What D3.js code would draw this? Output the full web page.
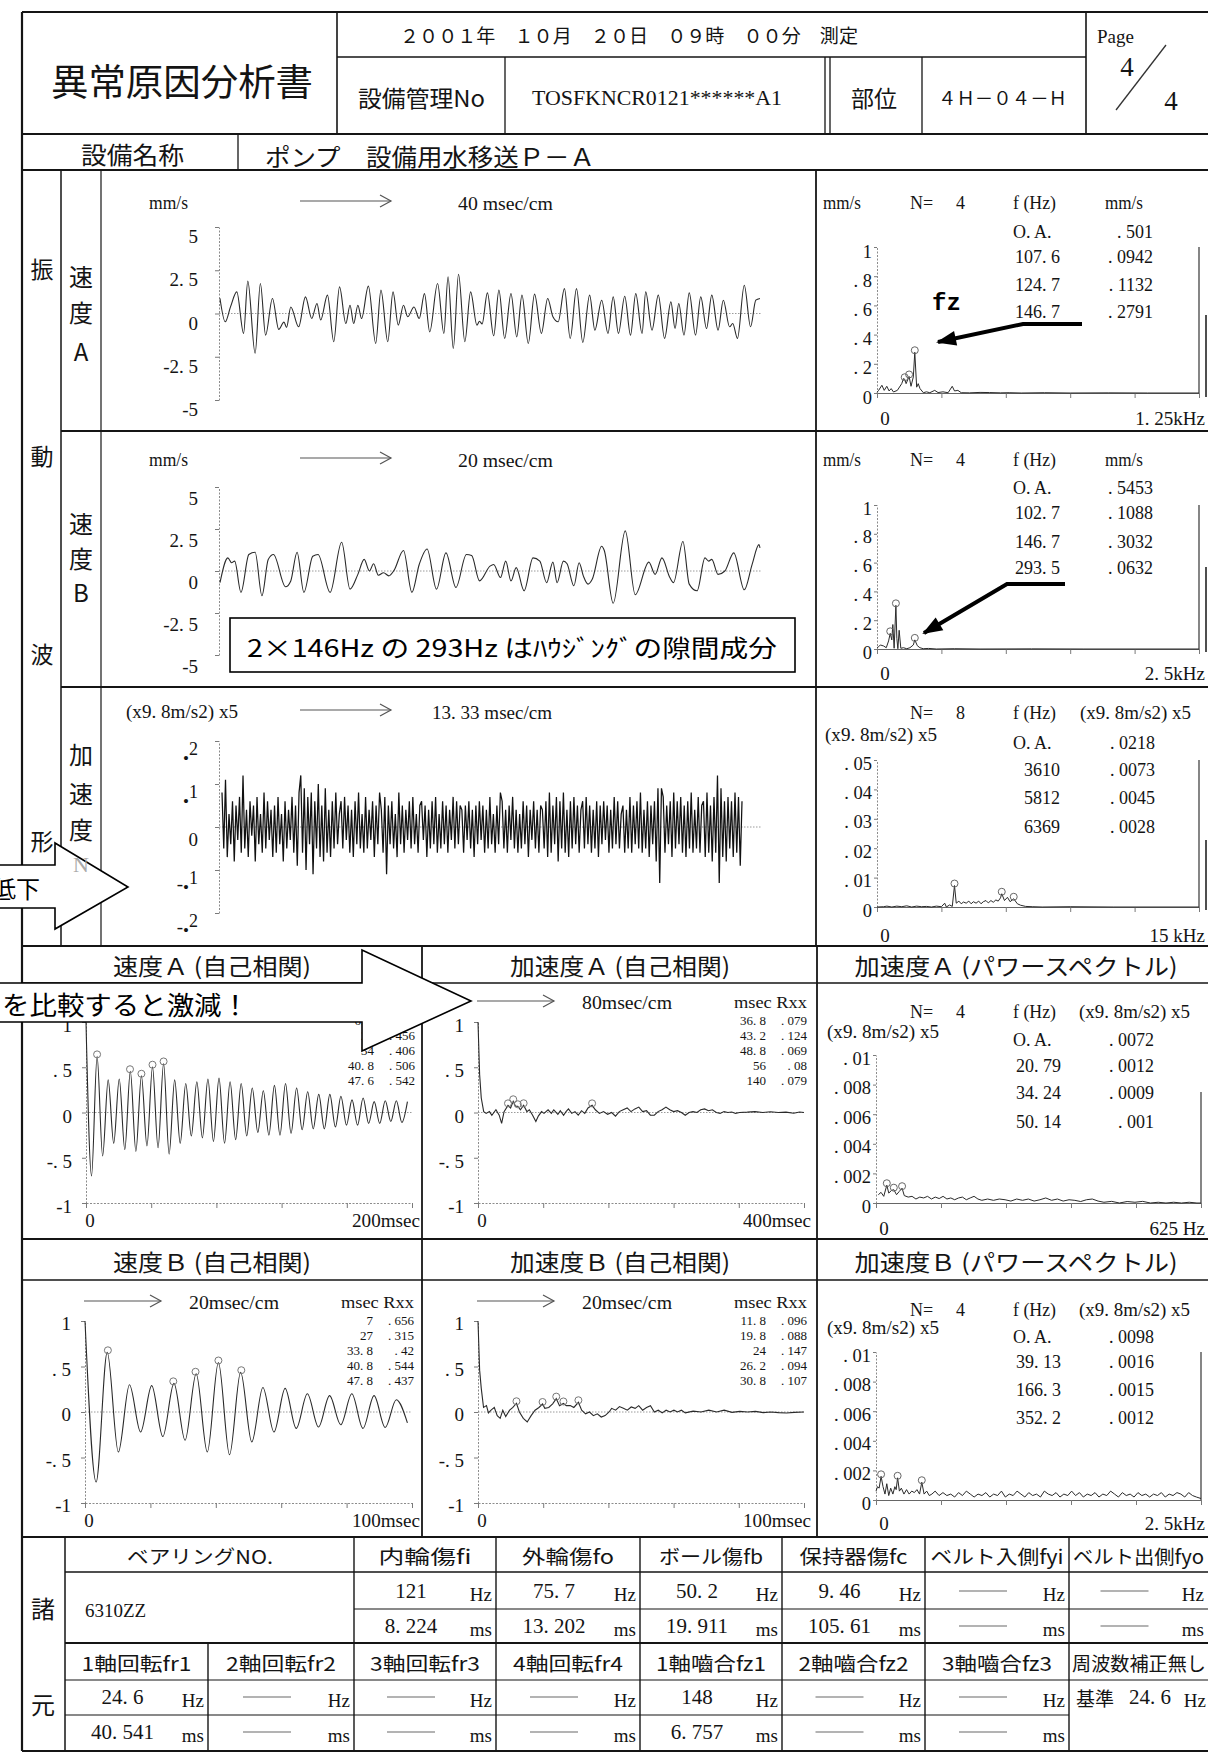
<!DOCTYPE html>
<html lang="ja">
<head>
<meta charset="utf-8">
<title>異常原因分析書</title>
<script src="https://cdn.jsdelivr.net/npm/d3@7/dist/d3.min.js"></script>
<style>
  html, body { margin: 0; padding: 0; background: #fff; }
  svg { display: block; }
</style>
</head>
<body>
<svg id="sheet" width="1208" height="1753"></svg>
<script>
// ---------- tick labels ----------
const waveTicks = [5, 2.5, 0, -2.5, -5];
const waveLabels = ["5", "2. 5", "0", "-2. 5", "-5"];
const accTicks = [0.2, 0.1, 0, -0.1, -0.2];
const accLabels = [".2", ".1", "0", "-.1", "-.2"];
const velSpecTicks = [1, 0.8, 0.6, 0.4, 0.2, 0];
const velSpecLabels = ["1", ". 8", ". 6", ". 4", ". 2", "0"];
const accNSpecTicks = [0.05, 0.04, 0.03, 0.02, 0.01, 0];
const accNSpecLabels = [". 05", ". 04", ". 03", ". 02", ". 01", "0"];
const powTicks = [0.01, 0.008, 0.006, 0.004, 0.002, 0];
const powLabels = [". 01", ". 008", ". 006", ". 004", ". 002", "0"];
const acTicks = [1, 0.5, 0, -0.5, -1];
const acLabels = ["1", ". 5", "0", "-. 5", "-1"];

// ---------- waveforms [t, mm/s] ----------
const velA_wave = [[0,.87],[5,-.48],[10,.38],[16,1.25],[22.5,-1.15],[26.5,1.87],[33.5,-2.3],[38.5,1.73],[43.5,-1.25],[50,.87],[56,-.92],[61,-.5],[63.5,-.8],[67.5,.38],[75,-.77],[81.5,.96],[87.5,-.29],[92.5,.58],[96,-.38],[102.5,1.06],[108.5,-1.63],[114,1.54],[120,-.58],[124,.48],[127.5,-.58],[131.5,.48],[135,-.29],[141.5,1.58],[148.5,-1.73],[153.5,1.35],[160,-1.63],[165,1.25],[170,-.67],[175,.48],[179,-.19],[185,.38],[190,-.29],[195,1.15],[200,-1.06],[207.5,1.73],[213.5,-1.15],[217.5,2.12],[222.5,-2.02],[227.5,2.27],[233.5,-1.63],[239,1.25],[245,-.67],[247.5,-.45],[250,-.6],[255,1.19],[261,-1.29],[266,1.35],[271.5,-1.44],[277.5,1.15],[283,-1.35],[288,1.06],[294,-1.73],[300,1.12],[306.5,-1.15],[312.5,.87],[317.5,-.19],[322.5,-.48],[328.5,1.44],[334,-1.44],[340,1.44],[346,-1.67],[352.5,1.06],[357.5,-.96],[364,.77],[370,-1.15],[375,.96],[380,-1.15],[386,1.0],[391.5,-1.25],[396.5,1.15],[402.5,-1.15],[406,1.25],[412,-.96],[418,1.06],[424,-1.44],[430,.67],[434,-.87],[437.5,.58],[442.5,-1.25],[447.5,1.19],[453.5,-1.25],[458.5,.96],[464,-.87],[469,1.06],[475,-.96],[480,.77],[486,-.77],[489,-.58],[493.5,-1.44],[500,1.63],[506,-.77],[511,.77],[515,.87]];
const velB_wave = [[0,-.69],[7.5,.78],[11,.49],[14,.59],[20,-1.27],[27.5,.98],[33.5,1.12],[40,-1.47],[46,.69],[51,.98],[62.5,-.94],[67.5,-.59],[73.5,1.12],[80,-1.27],[88.5,.88],[93.5,.98],[105,-1.27],[116,1.71],[124,-1.08],[131.5,-.2],[137.5,.69],[142.5,0],[146.5,.43],[151,-.25],[156,-.1],[161,-.29],[166,.04],[175,1.22],[183,-1.27],[190,.39],[197.5,1.31],[206.5,-1.08],[215.5,1.08],[225,-.98],[235,.98],[240,.92],[247.5,-.59],[257.5,.29],[261,.39],[267.5,-.39],[272.5,.59],[277.5,-.59],[282.5,.2],[290,-1.18],[298.5,.78],[305,.59],[311.5,-.69],[317.5,.53],[321.5,-.69],[327.5,.59],[331,.43],[337.5,-.88],[342.5,.49],[346.5,-.29],[351,-.78],[355,-.49],[364,1.47],[366.5,1.22],[375,-1.92],[386.5,2.39],[396,-1.41],[409,.53],[415,-.2],[421.5,.78],[429,-.39],[432.5,-.69],[441.5,1.76],[447.5,-.78],[455,-1.18],[462.5,.78],[466,.59],[469,.69],[475,-.2],[481.5,0],[490,1.08],[500,-1.12],[507.5,.39],[514,1.57],[515,1.37]];
// acceleration N, one value per sample
const accN_wave = [.08,-.05,.11,-.07,.03,-.04,.06,-.08,.05,-.03,.07,-.06,.12,-.05,.04,-.07,.06,-.02,.05,-.08,.07,-.04,
.03,-.06,.08,-.05,.06,-.03,.04,-.07,.05,-.06,.07,-.04,.03,-.08,.06,-.05,.04,-.03,.07,-.06,.05,-.09,.08,
.12,-.06,.09,-.10,.07,-.04,.08,-.11,.06,-.05,.10,-.07,.05,-.08,.09,-.06,.04,-.07,.06,-.05,.08,-.04,.03,
.06,-.05,.07,-.03,.05,-.06,.04,-.07,.06,-.04,.08,-.05,.03,-.06,.07,-.05,.04,-.03,.06,-.07,.05,-.04,.08,
.04,-.06,.07,-.11,.05,-.04,.06,-.05,.03,-.07,.08,-.04,.05,-.06,.04,-.03,.06,-.05,.07,-.04,.03,-.06,.05,
.06,-.03,.05,-.07,.04,-.05,.06,-.04,.07,-.06,.03,-.05,.06,-.04,.05,-.06,.04,-.03,.07,-.05,.06,-.04,.05,
.04,-.06,.05,-.03,.06,-.05,.04,-.07,.05,-.04,.06,-.03,.05,-.06,.04,-.05,.07,-.04,.03,-.06,.05,-.04,.08,
.06,-.05,.04,-.06,.05,-.03,.07,-.05,.04,-.06,.03,-.05,.06,-.04,.05,-.07,.04,-.03,.06,-.05,.04,-.06,.05,
.04,-.05,.06,-.07,.08,-.06,.05,-.04,.07,-.08,.06,-.05,.08,-.06,.04,-.07,.06,-.05,.07,-.04,.05,-.06,.04,
.06,-.05,.07,-.04,.05,-.06,.04,-.05,.06,-.07,.05,-.04,.06,-.03,.05,-.06,.04,-.05,.07,-.04,.06,-.05,.03,
.05,-.06,.04,-.05,.07,-.06,.05,-.04,.06,-.05,.08,-.06,.04,-.05,.06,-.07,.05,-.04,.06,-.08,.09,-.13,.09,
.07,-.06,.05,-.04,.06,-.07,.08,-.05,.06,-.04,.07,-.06,.05,-.07,.06,-.05,.08,-.06,.04,-.05,.07,-.06,.05,
.06,-.07,.08,-.06,.05,-.08,.07,-.06,.12,-.13,.09,-.07,.06,-.08,.07,-.05,.06,-.07,.08,-.06,.07,-.09,.06];

// ---------- spectra [Hz, value] ----------
const velA_spec = [[0,.005],[6.4,.018],[19,.053],[28,.018],[38,.046],[47,.014],[55,.03],[64,.007],[79,.018],[96,.064],[103,.099],[107.6,.0942],[113,.064],[124.7,.1132],[132,.046],[141,.11],[146.7,.2791],[154,.04],[160,.064],[167,.03],[180,.002],[192,.008],[205,.002],[224,.018],[237,.003],[256,.008],[276,.002],[292,.046],[301,.014],[314,.018],[327,.002],[359,.001],[400,.004],[436,.003],[480,.001],[513,.002],[560,0],[650,.002],[750,0],[900,.001],[1050,0],[1250,0]];
const velA_pkF = [107.6, 124.7, 146.7], velA_pkV = [.0942, .1132, .2791], velA_oa = .501;
const velB_spec = [[0,.009],[13,.016],[26,.028],[51,.021],[72,.009],[90,.056],[102.7,.1088],[115,.063],[123,.17],[133,.005],[146.7,.3032],[154,.074],[162,.002],[172,.13],[185,.005],[205,.009],[231,.002],[256,.009],[282,.028],[293.5,.0632],[313,.023],[333,.009],[359,.002],[400,.004],[461,0],[600,.002],[800,0],[1200,.001],[1600,0],[2500,0]];
const velB_pkF = [102.7, 146.7, 293.5], velB_pkV = [.1088, .3032, .0632], velB_oa = .5453;
const accN_spec = [[0,0],[308,.0001],[461,.0003],[692,0],[923,.0003],[1154,.0001],[1385,.0004],[1615,0],[1846,.0003],[2077,.0001],[2307,.0002],[2538,0],[2769,.0003],[3000,.0001],[3154,.0013],[3231,0],[3384,.0007],[3507,.0002],[3610,.0073],[3692,.0013],[3815,.002],[3923,.0011],[4030,.0017],[4154,.0013],[4277,.002],[4384,.0011],[4492,.0018],[4615,.0013],[4738,.002],[4846,.0011],[4953,.0018],[5076,.0022],[5184,.0014],[5307,.0022],[5415,.0016],[5538,.0024],[5646,.002],[5753,.0031],[5812,.0045],[5938,.0022],[6077,.0033],[6200,.0018],[6369,.0028],[6538,.0011],[6692,.0006],[6923,.0002],[7230,.0001],[7692,0],[9000,.0001],[11000,0],[15000,0]];
const accN_pkF = [3610, 5812, 6369], accN_pkV = [.0073, .0045, .0028], accN_oa = .0218;
const accA_spec = [[4.5,.00056],[9.7,.00072],[14.9,.00045],[20.79,.0012],[24.6,.00067],[29.8,.00085],[34.24,.0009],[39.5,.00056],[44.7,.00078],[50.14,.001],[54.4,.0005],[61.9,.0004],[69.3,.00045],[76.8,.00027],[84.2,.0004],[91.7,.00034],[99.1,.00045],[106.6,.00027],[114,.0004],[121.5,.0003],[129,.00045],[136.4,.00027],[143.9,.00034],[151.3,.00022],[158.8,.00034],[166.2,.0004],[173.7,.00022],[181.1,.00034],[188.6,.00045],[196,.00027],[203.5,.00018],[214.7,.00027],[225.9,.00018],[237,.00027],[248.2,.00022],[259.4,.00013],[270.6,.00027],[281.8,.00018],[292.9,.00027],[304.1,.00013],[315.3,.00022],[326.5,.00034],[337.7,.00018],[348.8,.00027],[360,.00013],[371.2,.00022],[382.4,.00018],[393.6,.0001],[404.8,.00022],[415.9,.00027],[427.1,.00013],[438.3,.00005],[453.2,.00011],[468.1,0],[483,.0001],[497.9,.00005],[512.8,.00011],[527.7,0],[542.7,.00005],[557.6,0],[572.5,.00005],[587.4,0],[602.3,.00005],[617.2,0],[625,0]];
const accA_pkF = [20.79, 34.24, 50.14], accA_pkV = [.0012, .0009, .001], accA_oa = .0072;
const accB_spec = [[0,.0006],[12,.0009],[24,.0008],[39.13,.0016],[54,.0009],[69,.0004],[83,.0011],[98,.0003],[113,.0008],[130,.0004],[145,.0009],[155,.0007],[166.3,.0015],[180,.0006],[195,.0008],[215,.0004],[235,.0007],[255,.0004],[275,.0006],[295,.0005],[315,.0007],[335,.0004],[352.2,.0012],[370,.0004],[390,.0006],[410,.0003],[430,.0004],[455,.0006],[485,.0003],[515,.0005],[545,.0003],[575,.0004],[605,.0002],[635,.0005],[665,.0003],[695,.0006],[725,.0004],[755,.0002],[785,.0004],[815,.0003],[845,.0005],[875,.0002],[905,.0004],[935,.0003],[965,.0006],[995,.0002],[1025,.0004],[1055,.0003],[1085,.0006],[1115,.0004],[1145,.0002],[1175,.0005],[1205,.0003],[1235,.0004],[1265,.0002],[1295,.0006],[1325,.0004],[1355,.0003],[1385,.0005],[1415,.0002],[1445,.0004],[1475,.0003],[1505,.0006],[1535,.0003],[1565,.0005],[1595,.0002],[1625,.0004],[1655,.0003],[1685,.0005],[1715,.0002],[1745,.0004],[1775,.0003],[1805,.0006],[1835,.0004],[1865,.0002],[1895,.0005],[1925,.0003],[1955,.0004],[1985,.0002],[2015,.0005],[2045,.0003],[2075,.0004],[2105,.0002],[2135,.0004],[2165,.0003],[2195,.0005],[2225,.0002],[2255,.0004],[2285,.0003],[2315,.0005],[2345,.0004],[2375,.0002],[2405,.0005],[2435,.0003],[2465,.0002],[2500,.0001]];
const accB_pkF = [39.13, 166.3, 352.2], accB_pkV = [.0016, .0015, .0012], accB_oa = .0098;

// ---------- autocorrelation ----------
// velocity: extremes every 3.4 ms
const velA_ac = [1,-.70,.62,-.48,.36,-.34,.37,-.41,.456,-.43,.406,-.37,.506,-.39,.542,-.46,.36,-.34,.32,-.26,.34,-.28,.37,-.32,.38,-.34,.34,-.30,.32,-.26,.27,-.22,.24,-.25,.30,-.25,.32,-.23,.27,-.19,.23,-.18,.20,-.18,.20,-.16,.18,-.14,.14,-.14,.16,-.12,.12,-.12,.13,-.10,.13,-.11,.12];
const velB_ac = [1,-.77,.656,-.44,.30,-.22,.29,-.27,.315,-.31,.42,-.44,.544,-.47,.437,-.33,.27,-.22,.26,-.18,.20,-.165,.18,-.14,.20,-.18,.18,-.17,.135,-.12];
const acStep = 3.4;
const accA_ac = [[0,1],[2,.42],[4,.16],[7,.01],[10,-.01],[14,.01],[17,-.03],[22,.03],[26,-.03],[29,-.12],[32,.01],[36.8,.079],[40,.05],[43.2,.124],[46,.07],[48.8,.069],[52,.03],[56,.08],[60,.01],[63,.03],[67,-.03],[71,-.10],[74,-.04],[78,.01],[81,-.01],[86,.03],[90,-.01],[93,.03],[98,-.02],[101,.02],[105,-.03],[108,.01],[111,.04],[115,-.01],[119,.01],[123,-.03],[127,.02],[131,-.01],[135,.05],[140,.079],[144,.03],[149,-.01],[154,.01],[159,-.02],[164,0],[168.7,-.04],[173.4,.01],[178.2,.03],[183,.05],[187.7,.01],[192.5,.04],[197.3,.06],[202,.01],[206.8,.02],[211.5,-.03],[216.3,-.03],[221,.01],[225.8,.03],[230.6,.06],[235.3,.03],[240,.01],[244.8,.02],[249.6,0],[254.3,-.03],[259,0],[263.8,.01],[268.6,0],[273.3,.03],[278,.04],[282.8,.02],[287.6,.03],[292.4,0],[297,-.01],[301.9,.01],[306.6,0],[311.4,.005],[316,-.01],[320.9,0],[330.4,.004],[339.9,.01],[349.4,0],[358.9,.008],[368.4,0],[377.9,.004],[387.4,-.008],[394.5,.006],[400,0]];
const accB_ac = [[0,1],[.5,.46],[1,.26],[1.7,.05],[2.6,.07],[3.2,-.01],[4,.02],[5,.05],[5.9,-.04],[6.8,-.07],[7.6,.02],[8.5,-.05],[9.7,.02],[10.7,.05],[11.8,.096],[12.7,0],[13.9,-.07],[15.1,-.11],[16.3,-.04],[17.5,.02],[18.7,.05],[19.8,.088],[20.5,.04],[21.7,.05],[22.9,.09],[24,.147],[25,.07],[26.2,.094],[27.1,.07],[28.3,.07],[29.4,.05],[30.8,.107],[31.8,.02],[33,-.02],[34.2,0],[35.4,-.04],[36.6,-.02],[37.8,-.055],[39,-.04],[40.2,0],[41,.04],[42.2,.02],[43.4,.06],[44.6,.04],[45.8,.02],[47,.055],[48.2,.04],[49.3,.07],[50.5,.02],[51.7,.05],[52.9,.07],[54.1,0],[55.3,.02],[56.5,-.01],[57.7,.02],[58.9,0],[60.1,.02],[61.2,0],[62.4,.02],[63.6,-.01],[66,.01],[68.4,0],[70.8,.02],[73.2,0],[75.5,.02],[77.9,-.004],[80.3,.007],[82.7,0],[85.1,.007],[87.5,-.007],[89.8,0],[92.2,-.007],[94.6,-.011],[97,-.004],[100,0]];
const velA_rxxT = [6.8, 27, 34, 40.8, 47.6], velA_rxxV = [.62, .456, .406, .506, .542];
const accA_rxxT = [36.8, 43.2, 48.8, 56, 140], accA_rxxV = [.079, .124, .069, .08, .079];
const velB_rxxT = [7, 27, 33.8, 40.8, 47.8], velB_rxxV = [.656, .315, .42, .544, .437];
const accB_rxxT = [11.8, 19.8, 24, 26.2, 30.8], accB_rxxV = [.096, .088, .147, .094, .107];

// ---------- bearing / shaft table ----------
const defectNames = ["内輪傷fi", "外輪傷fo", "ボール傷fb", "保持器傷fc", "ベルト入側fyi", "ベルト出側fyo"];
const defectHz = [121, 75.7, 50.2, 9.46, null, null];
const defectMs = [8.224, 13.202, 19.911, 105.61, null, null];
const shaftNames = ["1軸回転fr1", "2軸回転fr2", "3軸回転fr3", "4軸回転fr4", "1軸嚙合fz1", "2軸嚙合fz2", "3軸嚙合fz3"];
const shaftHz = [24.6, null, null, null, 148, null, null];
const shaftMs = [40.541, null, null, null, 6.757, null, null];

// ======================================================
const F = '"Liberation Serif","Noto Sans CJK JP",serif';
const J = '"Noto Sans CJK JP","Noto Sans CJK SC",sans-serif';
const INK = "#141414";
const svg = d3.select("#sheet");
const gFrame = svg.append("g");
const gPlot = svg.append("g");
const gText = svg.append("g");
const gOver = svg.append("g");

const fmt = v => { let s = String(v); if (s.startsWith("0.")) s = s.slice(1); return s.replace(".", ". "); };

function txt(g, x, y, s, o = {}) {
  const t = g.append("text").attr("x", x).attr("y", y).text(s)
    .attr("font-family", o.jp ? J : (o.font || F))
    .attr("font-size", o.fs || 18)
    .attr("text-anchor", o.a || "start")
    .attr("dominant-baseline", "central")
    .attr("fill", o.c || INK);
  if (o.w) t.attr("textLength", o.w).attr("lengthAdjust", "spacingAndGlyphs");
  if (o.b) t.attr("font-weight", "bold");
  return t;
}
function ln(g, x1, y1, x2, y2, w = 1.5, c = "#151515", dash) {
  const l = g.append("line").attr("x1", x1).attr("y1", y1).attr("x2", x2).attr("y2", y2)
    .attr("stroke", c).attr("stroke-width", w);
  if (dash) l.attr("stroke-dasharray", dash);
  return l;
}
function thinArrow(x1, x2, y) {
  ln(gText, x1, y, x2, y, 1.2, "#555");
  gText.append("path").attr("d", `M${x2 - 11},${y - 6}L${x2},${y}L${x2 - 11},${y + 6}`)
    .attr("fill", "none").attr("stroke", "#555").attr("stroke-width", 1.2);
}
function styleAxis(a, fs, dy) {
  a.attr("font-family", F).attr("font-size", fs);
  a.select(".domain").attr("stroke", "#8c8c8c").attr("stroke-width", 1);
  a.selectAll(".tick line").attr("stroke", "#7a7a7a");
  a.selectAll(".tick text").attr("fill", INK).attr("dy", null)
    .attr("dominant-baseline", "central").attr("transform", `translate(0,${dy})`);
}

// ---------- frame ----------
ln(gFrame, 22, 12, 1208, 12, 2.2);
ln(gFrame, 22, 12, 22, 1751, 2.2);
ln(gFrame, 22, 1751, 1208, 1751, 2.2);
ln(gFrame, 337, 12, 337, 134, 1.6);
ln(gFrame, 1086, 12, 1086, 134, 1.6);
ln(gFrame, 337, 57, 1086, 57, 1.4);
ln(gFrame, 22, 134, 1208, 134, 2);
[505, 825, 830, 922].forEach(x => ln(gFrame, x, 57, x, 134, 1.3));
ln(gFrame, 238, 134, 238, 170, 1.3);
ln(gFrame, 22, 170, 1208, 170, 2);
ln(gFrame, 61, 170, 61, 946, 1.5);
ln(gFrame, 101, 170, 101, 946, 1.2);
ln(gFrame, 61, 431, 1208, 431, 1.8);
ln(gFrame, 61, 687, 1208, 687, 1.8);
ln(gFrame, 816, 170, 816, 946, 1.8);
ln(gFrame, 22, 946, 1208, 946, 2);
ln(gFrame, 22, 983, 1208, 983, 1.5);
ln(gFrame, 22, 1239, 1208, 1239, 2);
ln(gFrame, 22, 1280, 1208, 1280, 1.5);
ln(gFrame, 422, 946, 422, 1537, 1.8);
ln(gFrame, 817, 946, 817, 1537, 1.8);
ln(gFrame, 22, 1537, 1208, 1537, 2);
ln(gFrame, 65, 1537, 65, 1751, 1.5);
ln(gFrame, 65, 1572, 1208, 1572, 1.5);
ln(gFrame, 354, 1609, 1208, 1609, 1.2);
ln(gFrame, 65, 1643, 1208, 1643, 1.8);
ln(gFrame, 65, 1680, 1208, 1680, 1.2);
ln(gFrame, 65, 1715, 1069, 1715, 1.2);
[354, 496, 640, 782, 925, 1069].forEach(x => ln(gFrame, x, 1537, x, 1751, 1.4));
ln(gFrame, 208, 1643, 208, 1751, 1.4);
[[315, 397], [567, 652], [840, 910]].forEach(s => ln(gFrame, 1206, s[0], 1206, s[1], 1.5));

// ---------- header texts ----------
txt(gText, 182, 80, "異常原因分析書", { jp: 1, fs: 37, a: "middle", w: 262 });
txt(gText, 400, 34, "２００１年　１０月　２０日　０９時　００分　測定", { jp: 1, fs: 19, w: 458 });
txt(gText, 358, 97, "設備管理No", { jp: 1, fs: 23, w: 127 });
txt(gText, 532, 97, "TOSFKNCR0121******A1", { fs: 22, w: 250 });
txt(gText, 874, 97, "部位", { jp: 1, fs: 23, a: "middle" });
txt(gText, 938, 97, "４Ｈ－０４－Ｈ", { jp: 1, fs: 18, w: 129 });
txt(gText, 1097, 36, "Page", { fs: 19 });
txt(gText, 1127, 67, "4", { fs: 27, a: "middle" });
txt(gText, 1171, 101, "4", { fs: 27, a: "middle" });
ln(gText, 1166, 45, 1116, 110, 1.3, "#333");
txt(gText, 81, 153, "設備名称", { jp: 1, fs: 24, w: 103 });
txt(gText, 265, 155, "ポンプ　設備用水移送Ｐ－Ａ", { jp: 1, fs: 24, w: 330 });

// left column labels
[["振", 268], ["動", 455], ["波", 653], ["形", 840]].forEach(d => txt(gText, 42, d[1], d[0], { jp: 1, fs: 23, a: "middle" }));
[["速", 275], ["度", 311], ["A", 350], ["速", 522], ["度", 557], ["B", 591], ["加", 753], ["速", 792], ["度", 828]]
  .forEach(d => txt(gText, 81, d[1], d[0], { jp: 1, fs: 24, a: "middle" }));

// ---------- waveform panels ----------
function wave(o) {
  const x = d3.scaleLinear().domain(o.xd).range(o.xr);
  const y = d3.scaleLinear().domain([o.ticks[o.ticks.length - 1], o.ticks[0]]).range([o.yb, o.yt]);
  ln(gPlot, 219, y(0), 762, y(0), 1, "#9a9a9a", "1.5,1.5");
  const ay = d3.axisLeft(y).tickValues(o.ticks).tickFormat((d, i) => o.labels[i]).tickSize(4).tickPadding(17).tickSizeOuter(0);
  const a = gPlot.append("g").attr("transform", "translate(219,0)").call(ay);
  styleAxis(a, 19, o.dy);
  a.select(".domain").attr("stroke-dasharray", "2,1.5");
  if (o.bullet) {
    a.selectAll(".tick text").each(function (d, i) {
      const s = o.labels[i], t = d3.select(this).text(null);
      if (s.indexOf(".") < 0) { t.text(s); return; }
      const [pre, dig] = s.split(".");
      if (pre) t.append("tspan").text(pre);
      t.append("tspan").attr("font-size", 17).attr("dy", 4).text("•");
      t.append("tspan").attr("font-size", 18).attr("dy", -9).text(dig);
    });
  }
  const line = d3.line().x((d, i) => x(o.fx(d, i))).y(d => y(o.fy(d))).curve(o.curve);
  gPlot.append("path").datum(o.data).attr("fill", "none").attr("stroke", o.color || "#2a2a2a")
    .attr("stroke-width", o.sw || 1.1).attr("d", line);
  txt(gText, o.unitX || 149, o.unitY, o.unit, { fs: 18, w: o.unitW });
  thinArrow(300, 391, o.unitY - 2);
  txt(gText, o.scaleX || 458, o.unitY, o.scale, { fs: 19, w: o.scaleW });
}
wave({ data: velA_wave, xd: [0, 515], xr: [220, 760], ticks: waveTicks, labels: waveLabels, yb: 400, yt: 227, dy: 9,
  fx: d => d[0], fy: d => d[1], curve: d3.curveMonotoneX, unit: "mm/s", unitY: 203, unitW: 39, scale: "40 msec/cm", scaleW: 95 });
wave({ data: velB_wave, xd: [0, 515], xr: [220, 760], ticks: waveTicks, labels: waveLabels, yb: 655, yt: 487, dy: 11,
  fx: d => d[0], fy: d => d[1], curve: d3.curveMonotoneX, unit: "mm/s", unitY: 460, unitW: 39, scale: "20 msec/cm", scaleW: 95 });
wave({ data: accN_wave, xd: [0, accN_wave.length - 1], xr: [222, 742], ticks: accTicks, labels: accLabels, yb: 913, yt: 741, dy: 12, bullet: 1,
  fx: (d, i) => i, fy: d => d, curve: d3.curveLinear, color: "#111", sw: 1.25,
  unit: "(x9. 8m/s2) x5", unitX: 126, unitY: 712, unitW: 112, scale: "13. 33 msec/cm", scaleX: 432, scaleW: 120 });

// ---------- spectrum panels ----------
function spectrum(o) {
  const x = d3.scaleLinear().domain([0, o.fMax]).range([o.x0, o.x1]);
  const y = d3.scaleLinear().domain([0, o.ticks[0]]).range([o.y0, o.yTop]);
  const ay = d3.axisLeft(y).tickValues(o.ticks).tickFormat((d, i) => o.labels[i]).tickSize(3).tickPadding(2).tickSizeOuter(0);
  const a = gPlot.append("g").attr("transform", `translate(${o.x0},0)`).call(ay);
  styleAxis(a, 18.5, o.dy);
  a.select(".domain").attr("stroke-dasharray", "2,1.5");
  const ax = d3.axisBottom(x).tickValues([0, 1, 2, 3, 4, 5].map(k => o.fMax * k / 5)).tickFormat("").tickSize(5).tickSizeOuter(0);
  const b = gPlot.append("g").attr("transform", `translate(0,${o.y0})`).call(ax);
  styleAxis(b, 18, 0);
  b.select(".domain").attr("stroke", "#666");
  ln(gPlot, x(o.fMax), y(o.frameTop), x(o.fMax), o.y0, 1.3, "#444");
  gPlot.append("path").datum(o.data).attr("fill", "none").attr("stroke", "#2a2a2a").attr("stroke-width", 1)
    .attr("d", d3.line().x(d => x(d[0])).y(d => y(d[1])));
  gPlot.selectAll(null).data(o.pf).enter().append("circle")
    .attr("cx", d => x(d)).attr("cy", (d, i) => y(o.pv[i]) - 2).attr("r", 3.5)
    .attr("fill", "none").attr("stroke", "#666").attr("stroke-width", 1);
  txt(gText, o.x0 + 8, o.zeroY, "0", { fs: 19, a: "middle" });
  txt(gText, 1205, o.zeroY, o.endLabel, { fs: 19, a: "end" });
  // table
  txt(gText, o.unitLxy[0], o.unitLxy[1], o.unitL, { fs: 18, w: o.unitL.length > 5 ? 112 : 38 });
  txt(gText, 910, o.hdrY, "N=", { fs: 18 });
  txt(gText, 956, o.hdrY, String(o.n), { fs: 18 });
  txt(gText, 1013, o.hdrY, "f (Hz)", { fs: 18, w: 43 });
  txt(gText, o.unitRx, o.hdrY, o.unitL, { fs: 18, w: o.unitL.length > 5 ? 111 : 38 });
  txt(gText, 1013, o.rowsY[0], "O. A.", { fs: 18 });
  txt(gText, o.vRight, o.rowsY[0], fmt(o.oa), { fs: 18, a: "end" });
  o.pf.forEach((f, i) => {
    txt(gText, o.fRight, o.rowsY[i + 1], fmt(f), { fs: 18, a: "end" });
    txt(gText, o.vRight, o.rowsY[i + 1], fmt(o.pv[i]), { fs: 18, a: "end" });
  });
}
const specRow = { x0: 877, x1: 1199, fRight: 1060, vRight: 1153 };
spectrum({ ...specRow, data: velA_spec, fMax: 1250, y0: 393, yTop: 247, ticks: velSpecTicks, labels: velSpecLabels, dy: 4,
  pf: velA_pkF, pv: velA_pkV, oa: velA_oa, frameTop: 1, endLabel: "1. 25kHz", zeroY: 418,
  unitL: "mm/s", unitLxy: [823, 203], unitRx: 1105, hdrY: 203, n: 4, rowsY: [232, 257, 285, 312] });
spectrum({ ...specRow, data: velB_spec, fMax: 2500, y0: 649, yTop: 505, ticks: velSpecTicks, labels: velSpecLabels, dy: 3,
  pf: velB_pkF, pv: velB_pkV, oa: velB_oa, frameTop: 1, endLabel: "2. 5kHz", zeroY: 673,
  unitL: "mm/s", unitLxy: [823, 460], unitRx: 1105, hdrY: 460, n: 4, rowsY: [488, 513, 542, 568] });
spectrum({ ...specRow, vRight: 1155, data: accN_spec, fMax: 15000, y0: 907, yTop: 760, ticks: accNSpecTicks, labels: accNSpecLabels, dy: 3,
  pf: accN_pkF, pv: accN_pkV, oa: accN_oa, frameTop: .05, endLabel: "15 kHz", zeroY: 935,
  unitL: "(x9. 8m/s2) x5", unitLxy: [825, 735], unitRx: 1080, hdrY: 713, n: 8, rowsY: [743, 770, 798, 827] });
spectrum({ x0: 876, x1: 1201, fRight: 1061, vRight: 1154, data: accA_spec, fMax: 625, y0: 1203, yTop: 1055, ticks: powTicks, labels: powLabels, dy: 3,
  pf: accA_pkF, pv: accA_pkV, oa: accA_oa, frameTop: .0075, endLabel: "625  Hz", zeroY: 1228,
  unitL: "(x9. 8m/s2) x5", unitLxy: [827, 1032], unitRx: 1079, hdrY: 1012, n: 4, rowsY: [1040, 1066, 1093, 1122] });
spectrum({ x0: 876, x1: 1201, fRight: 1061, vRight: 1154, data: accB_spec, fMax: 2500, y0: 1500, yTop: 1352, ticks: powTicks, labels: powLabels, dy: 3,
  pf: accB_pkF, pv: accB_pkV, oa: accB_oa, frameTop: .01, endLabel: "2. 5kHz", zeroY: 1523,
  unitL: "(x9. 8m/s2) x5", unitLxy: [827, 1328], unitRx: 1079, hdrY: 1310, n: 4, rowsY: [1337, 1362, 1390, 1418] });

// ---------- autocorrelation panels ----------
function autocorr(o) {
  const x = d3.scaleLinear().domain([0, o.tMax]).range([o.x0, o.x1]);
  const y = d3.scaleLinear().domain([-1, 1]).range([o.yBot, o.yTop]);
  ln(gPlot, o.x0, y(0), o.x1, y(0), 1, "#9a9a9a", "1.5,1.5");
  const ay = d3.axisLeft(y).tickValues(acTicks).tickFormat((d, i) => acLabels[i]).tickSize(4).tickPadding(10).tickSizeOuter(0);
  const a = gPlot.append("g").attr("transform", `translate(${o.x0},0)`).call(ay);
  styleAxis(a, 19, o.dy);
  a.select(".domain").attr("stroke-dasharray", "2,1.5");
  const ax = d3.axisBottom(x).tickValues([0, 1, 2, 3, 4, 5].map(k => o.tMax * k / 5)).tickFormat("").tickSize(5).tickSizeOuter(0);
  const b = gPlot.append("g").attr("transform", `translate(0,${o.yBot})`).call(ax);
  styleAxis(b, 18, 0);
  b.select(".domain").attr("stroke-dasharray", "2,1.5");
  gPlot.append("path").datum(o.data).attr("fill", "none").attr("stroke", "#2a2a2a").attr("stroke-width", 1.1)
    .attr("d", d3.line().x(d => x(d[0])).y(d => y(d[1])).curve(o.smooth ? d3.curveMonotoneX : d3.curveLinear));
  gPlot.selectAll(null).data(o.mt).enter().append("circle")
    .attr("cx", d => x(d)).attr("cy", (d, i) => y(o.mv[i]) - 2).attr("r", 3.5)
    .attr("fill", "none").attr("stroke", "#777").attr("stroke-width", 1);
  txt(gText, o.x0 + 4, o.yBot + 17, "0", { fs: 19, a: "middle" });
  txt(gText, o.endX, o.yBot + 17, o.endLabel, { fs: 19, a: "end", w: 68 });
  txt(gText, o.x0 + 329, o.hdrY, "msec Rxx", { fs: 17.5, a: "end", w: 73 });
  o.mt.forEach((t, i) => {
    txt(gText, o.x0 + 288, o.hdrY + 18 + i * 15.2, fmt(t), { fs: 13, a: "end" });
    txt(gText, o.x0 + 329, o.hdrY + 18 + i * 15.2, fmt(o.mv[i]), { fs: 13, a: "end" });
  });
  if (o.scale) {
    thinArrow(o.x0 - 1, o.x0 + 76, o.hdrY - 1);
    txt(gText, o.x0 + 104, o.hdrY, o.scale, { fs: 19, w: 90 });
  }
  txt(gText, o.titleX, o.titleY, o.title, { jp: 1, fs: 23, a: "middle", w: o.titleW });
}
autocorr({ data: velA_ac.map((v, i) => [i * acStep, v]), smooth: 1, tMax: 200, x0: 86, x1: 412, yTop: 1022, yBot: 1203, dy: 3,
  mt: velA_rxxT, mv: velA_rxxV, endLabel: "200msec", endX: 420, hdrY: 1002,
  title: "速度Ａ (自己相関)", titleX: 212, titleY: 965, titleW: 198 });
autocorr({ data: accA_ac, tMax: 400, x0: 478, x1: 804, yTop: 1022, yBot: 1203, dy: 3,
  mt: accA_rxxT, mv: accA_rxxV, endLabel: "400msec", endX: 811, hdrY: 1002, scale: "80msec/cm",
  title: "加速度Ａ (自己相関)", titleX: 620, titleY: 965, titleW: 220 });
autocorr({ data: velB_ac.map((v, i) => [i * acStep, v]), smooth: 1, tMax: 100, x0: 85, x1: 412, yTop: 1321, yBot: 1503, dy: 2,
  mt: velB_rxxT, mv: velB_rxxV, endLabel: "100msec", endX: 420, hdrY: 1302, scale: "20msec/cm",
  title: "速度Ｂ (自己相関)", titleX: 212, titleY: 1261, titleW: 198 });
autocorr({ data: accB_ac, tMax: 100, x0: 478, x1: 804, yTop: 1321, yBot: 1503, dy: 2,
  mt: accB_rxxT, mv: accB_rxxV, endLabel: "100msec", endX: 811, hdrY: 1302, scale: "20msec/cm",
  title: "加速度Ｂ (自己相関)", titleX: 620, titleY: 1261, titleW: 220 });
txt(gText, 1016, 965, "加速度Ａ (パワースペクトル)", { jp: 1, fs: 23, a: "middle", w: 323 });
txt(gText, 1016, 1261, "加速度Ｂ (パワースペクトル)", { jp: 1, fs: 23, a: "middle", w: 323 });

// ---------- bearing table ----------
const colX = [65, 208, 354, 496, 640, 782, 925, 1069, 1208];
const TF = { jp: 1, fs: 19 };
txt(gText, 43, 1607, "諸", { jp: 1, fs: 24, a: "middle" });
txt(gText, 43, 1703, "元", { jp: 1, fs: 24, a: "middle" });
txt(gText, 200, 1555, "ベアリングNO.", { ...TF, a: "middle", w: 146 });
txt(gText, 85, 1610, "6310ZZ", { fs: 19 });
function cellValue(x0, x1, yc, v, unit) {
  const cx = x0 + (x1 - x0 - 28) / 2;
  if (v == null) ln(gText, cx - 24, yc, cx + 24, yc, 1.3, "#9a9a9a");
  else txt(gText, cx, yc, fmt(v), { fs: 21, a: "middle" });
  txt(gText, x1 - 4, yc + 3, unit, { fs: 19, a: "end" });
}
defectNames.forEach((n, i) => {
  const x0 = colX[i + 2], x1 = colX[i + 3];
  txt(gText, (x0 + x1) / 2, 1555, n, { ...TF, a: "middle", w: Math.min(x1 - x0 - 8, [93, 92, 104, 108, 133, 133][i]) });
  cellValue(x0, x1, 1591, defectHz[i], "Hz");
  cellValue(x0, x1, 1626, defectMs[i], "ms");
});
shaftNames.forEach((n, i) => {
  const x0 = colX[i], x1 = colX[i + 1];
  txt(gText, (x0 + x1) / 2, 1662, n, { ...TF, a: "middle", w: 110 });
  cellValue(x0, x1, 1697, shaftHz[i], "Hz");
  cellValue(x0, x1, 1732, shaftMs[i], "ms");
});
txt(gText, 1072, 1662, "周波数補正無し", { ...TF, w: 134 });
txt(gText, 1076, 1697, "基準", { ...TF });
txt(gText, 1150, 1697, fmt(shaftHz[0]), { fs: 21, a: "middle" });
txt(gText, 1206, 1700, "Hz", { fs: 19, a: "end" });

// ---------- annotations ----------
gOver.append("rect").attr("x", 230).attr("y", 618).attr("width", 565).attr("height", 54)
  .attr("fill", "#fff").attr("stroke", "#000").attr("stroke-width", 1.6);
txt(gOver, 512, 646, "2×146Hz の 293Hz はﾊｳｼﾞﾝｸﾞの隙間成分", { jp: 1, fs: 24, a: "middle", w: 530, c: "#000" });

function thickArrow(pts) {
  gOver.append("polyline").attr("points", pts.map(p => p.join(",")).join(" "))
    .attr("fill", "none").attr("stroke", "#000").attr("stroke-width", 4);
  const a = pts[pts.length - 2], b = pts[pts.length - 1];
  const dx = b[0] - a[0], dy = b[1] - a[1], len = Math.hypot(dx, dy), ux = dx / len, uy = dy / len;
  const bx = b[0] - ux * 18, by = b[1] - uy * 18;
  gOver.append("polygon").attr("fill", "#000")
    .attr("points", [[b[0] + ux * 2, b[1] + uy * 2], [bx - uy * 7.5, by + ux * 7.5], [bx + uy * 7.5, by - ux * 7.5]].map(p => p.join(",")).join(" "));
}
thickArrow([[1082, 324], [1023, 324], [938, 342]]);
thickArrow([[1065, 584], [1007, 584], [924, 633]]);
txt(gOver, 932, 303, "fz", { font: '"Liberation Mono",monospace', fs: 24, b: 1, c: "#000" });

function bigArrow(pts) {
  gOver.append("polygon").attr("points", pts.map(p => p.join(",")).join(" "))
    .attr("fill", "#fff").attr("stroke", "#000").attr("stroke-width", 1.6).attr("stroke-linejoin", "miter");
}
bigArrow([[-5, 865], [55, 865], [55, 843], [128, 887], [55, 929], [55, 908], [-5, 908]]);
txt(gOver, 40, 887, "低下", { jp: 1, fs: 24, a: "end", c: "#000" });
txt(gOver, 81, 864, "N", { fs: 22, a: "middle", c: "#aaa" });
bigArrow([[-5, 983], [362, 983], [362, 950], [471, 1001], [362, 1051], [362, 1022], [-5, 1022]]);
txt(gOver, 2, 1003, "を比較すると激減！", { jp: 1, fs: 26, w: 247, c: "#000" });
</script>
</body>
</html>
